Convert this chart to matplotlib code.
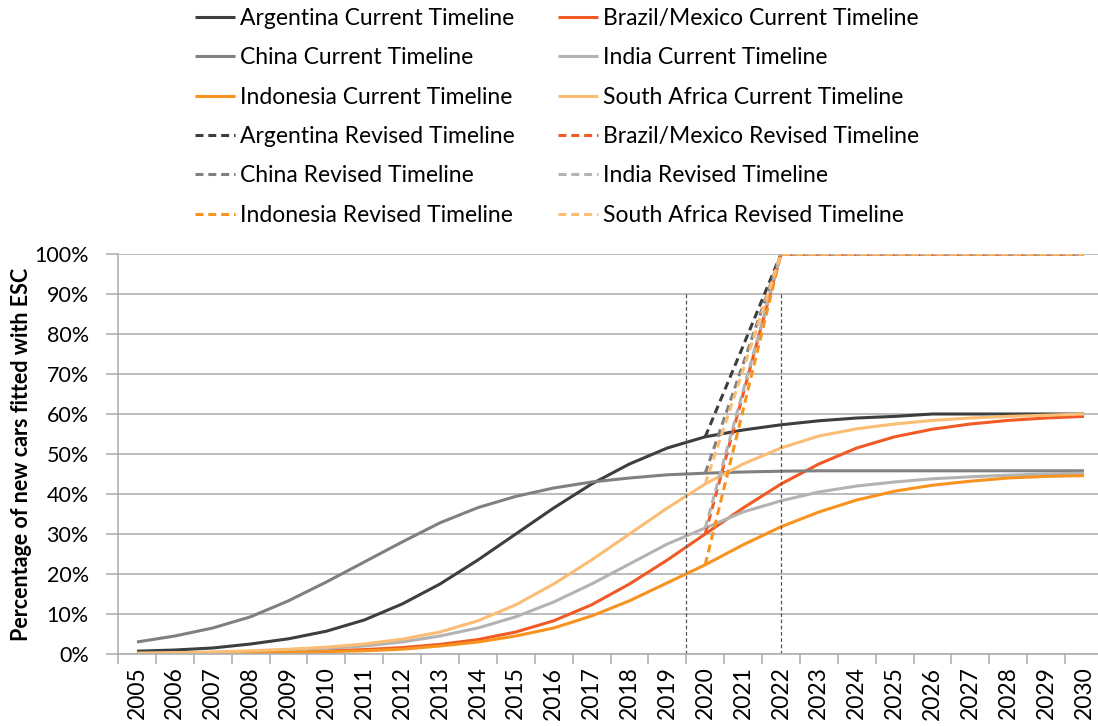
import numpy as np
import matplotlib
matplotlib.use('Agg')
import matplotlib.pyplot as plt
from matplotlib.ticker import FuncFormatter, FixedLocator

plt.rcParams['font.family'] = ['Lato', 'DejaVu Sans']

years = list(range(2005, 2031))

# current timelines (% of new cars fitted with ESC)
argentina = [0.7, 1.0, 1.5, 2.5, 3.8, 5.7, 8.5, 12.5, 17.5, 23.5, 30.0, 36.5, 42.5,
             47.5, 51.5, 54.3, 56.0, 57.3, 58.3, 59.0, 59.4, 60.0, 60.0, 60.0, 60.0, 60.0]
brazil = [0.1, 0.2, 0.3, 0.4, 0.6, 0.8, 1.1, 1.6, 2.4, 3.6, 5.5, 8.3, 12.3,
          17.5, 23.5, 30.0, 36.5, 42.5, 47.5, 51.5, 54.3, 56.2, 57.5, 58.4, 59.0, 59.4]
china = [3.0, 4.5, 6.5, 9.3, 13.3, 18.0, 23.0, 28.0, 32.8, 36.6, 39.4, 41.5, 43.0,
         44.0, 44.8, 45.2, 45.5, 45.7, 45.8, 45.8, 45.8, 45.8, 45.8, 45.8, 45.8, 45.8]
india = [0.2, 0.3, 0.4, 0.6, 0.9, 1.4, 2.0, 3.0, 4.5, 6.5, 9.3, 13.0, 17.5,
         22.5, 27.5, 31.5, 35.5, 38.3, 40.5, 42.0, 43.0, 43.8, 44.3, 44.7, 45.0, 45.2]
indonesia = [0.05, 0.1, 0.15, 0.25, 0.4, 0.6, 0.8, 1.2, 2.0, 3.0, 4.5, 6.5, 9.5,
             13.3, 17.8, 22.3, 27.3, 31.8, 35.5, 38.5, 40.7, 42.2, 43.2, 44.0, 44.4, 44.6]
south_africa = [0.2, 0.3, 0.5, 0.8, 1.2, 1.7, 2.5, 3.7, 5.5, 8.3, 12.3, 17.5, 23.5,
                30.0, 36.5, 42.5, 47.5, 51.5, 54.5, 56.3, 57.5, 58.4, 59.0, 59.4, 59.7, 60.0]

# revised timelines: start 2020, mandatory (100%) from 2022
n_pre = 15  # 2005..2019 not shown
argentina_rev = [np.nan] * n_pre + [54.3, 77.0] + [100.0] * 9
brazil_rev = [np.nan] * n_pre + [30.0, 65.0] + [100.0] * 9
china_rev = [np.nan] * n_pre + [45.2, 72.5] + [100.0] * 9
india_rev = [np.nan] * n_pre + [31.5, 65.8] + [100.0] * 9
indonesia_rev = [np.nan] * n_pre + [22.3, 61.0] + [100.0] * 9
south_africa_rev = [np.nan] * n_pre + [42.5, 71.0] + [100.0] * 9

names = ['Argentina', 'Brazil/Mexico', 'China', 'India', 'Indonesia', 'South Africa']
colors = ['#3b3f3f', '#f15a24', '#808080', '#b3b3b3', '#f7931e', '#fbbd74']
current = [argentina, brazil, china, india, indonesia, south_africa]
revised = [argentina_rev, brazil_rev, china_rev, india_rev, indonesia_rev, south_africa_rev]

fig = plt.figure(figsize=(10.98, 7.26), dpi=100)
# plot area runs slightly past the right edge of the image, as in the original
ax = fig.add_axes([118 / 1098, 72 / 726, 985 / 1098, 400 / 726])

x = np.arange(len(years))
handles = {}
for nm, c, vals in zip(names, colors, current):
    h, = ax.plot(x, np.array(vals) / 100, color=c, lw=2.2, solid_capstyle='butt',
                 label=nm + ' Current Timeline')
    handles[nm + ' C'] = h
for nm, c, vals in zip(names, colors, revised):
    h, = ax.plot(x, np.array(vals) / 100, color=c, lw=2.2, dashes=(2.6, 1.6),
                 label=nm + ' Revised Timeline')
    handles[nm + ' R'] = h

# marker lines at 2019/2020 and 2022
for xv in [14.5, 17]:
    ax.plot([xv, xv], [0, 0.905], color='#555555', lw=0.9, dashes=(3, 2))

ax.set_xlim(-0.5, len(years) - 0.5)
ax.set_ylim(0, 1.0)
ax.set_yticks(np.arange(0, 1.01, 0.1))
ax.yaxis.set_major_formatter(FuncFormatter(lambda v, p: f'{v * 100:.0f}%'))
ax.set_xticks(x)
ax.set_xticklabels([str(y) for y in years], rotation=90)
ax.xaxis.set_minor_locator(FixedLocator(np.arange(-0.5, len(years), 1)))
ax.tick_params(axis='x', which='major', length=0, labelsize=16.5, pad=9)
ax.tick_params(axis='x', which='minor', length=7, color='#b0b0b0', width=1.2)
ax.tick_params(axis='y', length=9, color='#b0b0b0', width=1.2, labelsize=15.5, pad=12)

ax.grid(axis='y', color='#b0b0b0', lw=1.2)
ax.set_axisbelow(True)
for s in ['top', 'right']:
    ax.spines[s].set_visible(False)
for s in ['left', 'bottom']:
    ax.spines[s].set_color('#b0b0b0')
    ax.spines[s].set_linewidth(1.2)

ax.set_ylabel('Percentage of new cars fitted with ESC', fontsize=15.5,
              fontweight='bold', labelpad=2)

order = ['Argentina C', 'China C', 'Indonesia C', 'Argentina R', 'China R', 'Indonesia R',
         'Brazil/Mexico C', 'India C', 'South Africa C', 'Brazil/Mexico R', 'India R', 'South Africa R']
hs = [handles[k] for k in order]
fig.legend(hs, [h.get_label() for h in hs], ncol=2, loc='upper left',
           bbox_to_anchor=(195 / 1098, 1 - 8 / 726), frameon=False, fontsize=16.5,
           handlelength=1.75, handletextpad=0.2, columnspacing=1.9,
           labelspacing=0.8, borderpad=0, borderaxespad=0)

fig.savefig('out.png', dpi=100)
